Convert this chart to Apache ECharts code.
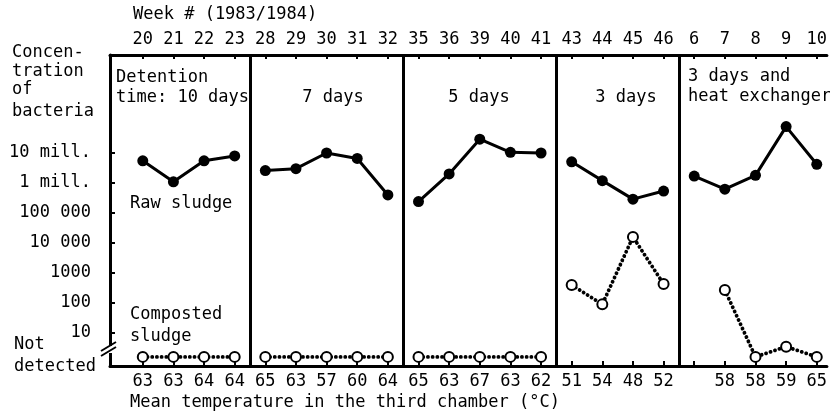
<!DOCTYPE html>
<html>
<head>
<meta charset="utf-8">
<script src="https://cdn.jsdelivr.net/npm/echarts@6/dist/echarts.min.js"></script>
<style>
  html, body { margin: 0; padding: 0; background: #fff; }
  #chart { width: 830px; height: 413px; }
</style>
</head>
<body>
<div id="chart"></div>
<script>
// week numbers (top axis) and mean temperature (bottom axis)
var weeks = ["20", "21", "22", "23", "28", "29", "30", "31", "32", "35", "36", "39", "40", "41", "43", "44", "45", "46", "6", "7", "8", "9", "10"];
var temps = ["63", "63", "64", "64", "65", "63", "57", "60", "64", "65", "63", "67", "63", "62", "51", "54", "48", "52", "", "58", "58", "59", "65"];
// number of weeks in each detention-time period
var panelSizes = [4, 5, 5, 4, 5];

// bacteria per gram, "nd" = not detected, null = no sample
var rawSludge = [5.5e6, 1.1e6, 5.5e6, 8e6, 2.6e6, 3e6, 1e7, 6.6e6, 4e5, 2.4e5, 2e6, 2.9e7, 1.05e7, 1e7, 5.1e6, 1.2e6, 2.9e5, 5.4e5, 1.7e6, 6.2e5, 1.8e6, 7.6e7, 4.2e6];
var compostedSludge = ["nd", "nd", "nd", "nd", "nd", "nd", "nd", "nd", "nd", "nd", "nd", "nd", "nd", "nd", 400, 90, 16000, 430, null, 270, "nd", 3.5, "nd"];

var yTicks = [10, 100, 1000, 10000, 100000, 1000000, 10000000];
var yTickLabels = ["10", "100", "1000", "10 000", "100 000", "1 mill.", "10 mill."];
var notDetectedLevel = 1.6; // where "not detected" sits below the break

var font = "17px 'DejaVu Sans Mono', monospace";
var fontFamily = "DejaVu Sans Mono";

function toLog(v) {
  if (v === "nd") return Math.log10(notDetectedLevel);
  return Math.log10(v);
}

var myChart = echarts.init(document.getElementById("chart"));

var series = [];
var dividers = [];
var start = 0;
panelSizes.forEach(function (n, p) {
  var raw = [], comp = [];
  for (var i = start; i < start + n; i++) {
    raw.push([i, toLog(rawSludge[i])]);
    if (compostedSludge[i] !== null) comp.push([i, toLog(compostedSludge[i])]);
  }
  series.push({
    type: "line",
    data: raw,
    symbol: "circle",
    symbolSize: 11,
    itemStyle: { color: "#000" },
    lineStyle: { color: "#000", width: 3 },
    z: 3,
  });
  series.push({
    type: "line",
    data: comp,
    symbol: "emptyCircle",
    symbolSize: 10,
    itemStyle: { color: "#000", borderWidth: 2 },
    lineStyle: { color: "#000", width: 3.8, type: [0.1, 4.6], cap: "round" },
    z: 3,
  });
  start += n;
  if (p < panelSizes.length - 1) dividers.push({ xAxis: start - 0.5 });
});

// period dividers
series[0].markLine = {
  silent: true,
  symbol: "none",
  label: { show: false },
  lineStyle: { color: "#000", width: 3, type: "solid" },
  data: dividers,
};

var idx = weeks.map(function (w, i) { return i; });

var texts = [
  ["Week # (1983/1984)", 133, 15],
  ["Concen-", 12, 53],
  ["tration", 12, 72],
  ["of", 12, 90],
  ["bacteria", 12, 112],
  ["Not", 14, 345],
  ["detected", 14, 367],
  ["Detention", 116, 78],
  ["time: 10 days", 116, 98],
  ["3 days and", 688, 77],
  ["heat exchanger", 688, 97],
  ["Raw sludge", 130, 204],
  ["Composted", 130, 315],
  ["sludge", 130, 337],
  ["Mean temperature in the third chamber (°C)", 130, 403],
];
var centered = [
  ["7 days", 333, 98],
  ["5 days", 479, 98],
  ["3 days", 626, 98],
];

var graphic = [];
texts.forEach(function (t) {
  graphic.push({
    type: "text",
    style: { text: t[0], x: t[1], y: t[2], font: font, fill: "#000", verticalAlign: "middle" },
  });
});
centered.forEach(function (t) {
  graphic.push({
    type: "text",
    style: { text: t[0], x: t[1], y: t[2], font: font, fill: "#000", align: "center", verticalAlign: "middle" },
  });
});
// axis break mark
graphic.push({ type: "rect", z: 100, shape: { x: 106, y: 346, width: 8, height: 7 }, style: { fill: "#fff" } });
graphic.push({ type: "line", z: 101, shape: { x1: 101, y1: 351, x2: 116, y2: 342 }, style: { stroke: "#000", lineWidth: 2 } });
graphic.push({ type: "line", z: 101, shape: { x1: 101, y1: 356, x2: 116, y2: 347 }, style: { stroke: "#000", lineWidth: 2 } });

var axisLine = { show: true, onZero: false, lineStyle: { color: "#000", width: 3 } };

var option = {
  animation: false,
  backgroundColor: "#fff",
  textStyle: { fontFamily: fontFamily },
  grid: { left: 110, right: 0, top: 55, bottom: 47 },
  xAxis: [
    {
      type: "value",
      position: "top",
      min: -1.07,
      max: 22.33,
      axisLine: axisLine,
      splitLine: { show: false },
      axisTick: { show: true, inside: true, length: 4, customValues: idx, lineStyle: { color: "#000", width: 2 } },
      axisLabel: {
        customValues: idx,
        margin: 7,
        color: "#000",
        fontSize: 17,
        fontFamily: fontFamily,
        formatter: function (v) { return weeks[Math.round(v)]; },
      },
    },
    {
      type: "value",
      position: "bottom",
      min: -1.07,
      max: 22.33,
      axisLine: axisLine,
      splitLine: { show: false },
      axisTick: { show: true, inside: true, length: 5, customValues: idx, lineStyle: { color: "#000", width: 2 } },
      axisLabel: {
        customValues: idx,
        margin: 7,
        color: "#000",
        fontSize: 17,
        fontFamily: fontFamily,
        formatter: function (v) { return temps[Math.round(v)]; },
      },
    },
  ],
  yAxis: {
    type: "value",
    min: -0.1,
    max: 10.267,
    axisLine: axisLine,
    splitLine: { show: false },
    axisTick: { show: true, inside: true, length: 5, customValues: yTicks.map(Math.log10), lineStyle: { color: "#000", width: 2 } },
    axisLabel: {
      customValues: yTicks.map(Math.log10),
      margin: 19,
      color: "#000",
      fontSize: 17,
      fontFamily: fontFamily,
      formatter: function (v) {
        var k = yTicks.findIndex(function (t) { return Math.abs(Math.log10(t) - v) < 1e-6; });
        return k >= 0 ? yTickLabels[k] : "";
      },
    },
  },
  graphic: graphic,
  series: series,
};

myChart.setOption(option);
</script>
</body>
</html>
